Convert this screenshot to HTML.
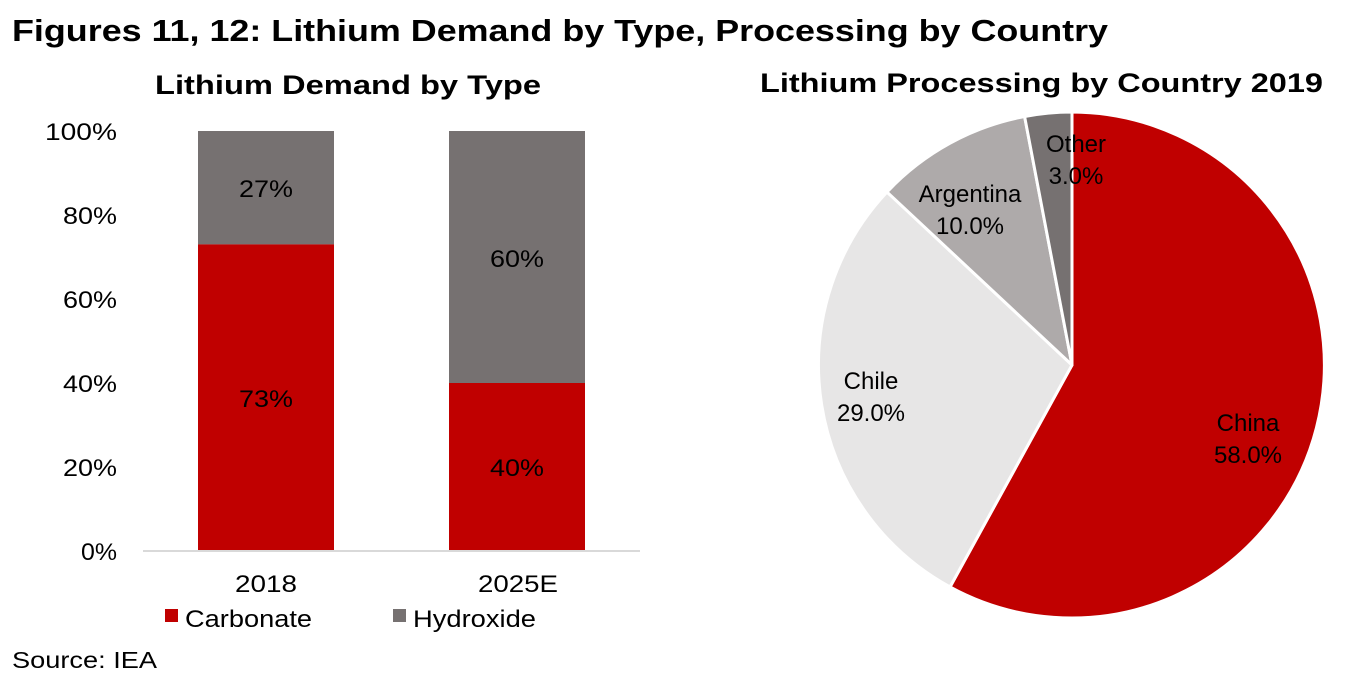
<!DOCTYPE html>
<html><head><meta charset="utf-8"><style>
body{margin:0;background:#fff;width:1369px;height:685px;overflow:hidden}
svg{display:block;font-family:"Liberation Sans",Arial,sans-serif}
</style></head><body>
<svg width="1369" height="685" viewBox="0 0 1369 685">
<text x="12" y="41" font-size="31" font-weight="bold" textLength="1096" lengthAdjust="spacingAndGlyphs">Figures 11, 12: Lithium Demand by Type, Processing by Country</text>
<text x="155" y="94" font-size="27" font-weight="bold" textLength="386" lengthAdjust="spacingAndGlyphs">Lithium Demand by Type</text>
<text x="760" y="92" font-size="27" font-weight="bold" textLength="563" lengthAdjust="spacingAndGlyphs">Lithium Processing by Country 2019</text>
<g font-size="24" fill="#000">
<text x="45" y="140" textLength="72" lengthAdjust="spacingAndGlyphs">100%</text>
<text x="63" y="224" textLength="54" lengthAdjust="spacingAndGlyphs">80%</text>
<text x="63" y="308" textLength="54" lengthAdjust="spacingAndGlyphs">60%</text>
<text x="63" y="392" textLength="54" lengthAdjust="spacingAndGlyphs">40%</text>
<text x="63" y="476" textLength="54" lengthAdjust="spacingAndGlyphs">20%</text>
<text x="81" y="560" textLength="36" lengthAdjust="spacingAndGlyphs">0%</text>
</g>
<rect x="198" y="131" width="136" height="113.4" fill="#767171"/>
<rect x="198" y="244.4" width="136" height="306.6" fill="#C00000"/>
<rect x="449" y="131" width="136" height="252" fill="#767171"/>
<rect x="449" y="383" width="136" height="168" fill="#C00000"/>
<line x1="143" y1="551" x2="640" y2="551" stroke="#d9d9d9" stroke-width="2"/>
<g font-size="24">
<text x="239" y="197" textLength="54" lengthAdjust="spacingAndGlyphs">27%</text>
<text x="239" y="407" textLength="54" lengthAdjust="spacingAndGlyphs">73%</text>
<text x="490" y="267" textLength="54" lengthAdjust="spacingAndGlyphs">60%</text>
<text x="490" y="476" textLength="54" lengthAdjust="spacingAndGlyphs">40%</text>
<text x="235" y="592" textLength="62" lengthAdjust="spacingAndGlyphs">2018</text>
<text x="478" y="592" textLength="80" lengthAdjust="spacingAndGlyphs">2025E</text>
</g>
<rect x="165" y="609" width="13" height="13" fill="#C00000"/>
<text x="185" y="627" font-size="24" textLength="127" lengthAdjust="spacingAndGlyphs">Carbonate</text>
<rect x="393" y="609" width="13" height="13" fill="#767171"/>
<text x="413" y="627" font-size="24" textLength="123" lengthAdjust="spacingAndGlyphs">Hydroxide</text>
<text x="12" y="668" font-size="23" textLength="145" lengthAdjust="spacingAndGlyphs">Source: IEA</text>
<g stroke="#fff" stroke-width="3" stroke-linejoin="round">
<path d="M1072 365 L1072 112 A253 253 0 1 1 950 587 Z" fill="#C00000"/>
<path d="M1072 365 L950 587 A253 253 0 0 1 887 192 Z" fill="#E7E6E6"/>
<path d="M1072 365 L887 192 A253 253 0 0 1 1024.6 116.5 Z" fill="#AEAAAA"/>
<path d="M1072 365 L1024.6 116.5 A253 253 0 0 1 1072 112 Z" fill="#767171"/>
</g>
<g font-size="24" text-anchor="middle">
<text x="1248" y="431">China</text>
<text x="1248" y="463">58.0%</text>
<text x="871" y="389">Chile</text>
<text x="871" y="421">29.0%</text>
<text x="970" y="202">Argentina</text>
<text x="970" y="234">10.0%</text>
<text x="1076" y="152">Other</text>
<text x="1076" y="184">3.0%</text>
</g>
</svg>
</body></html>
